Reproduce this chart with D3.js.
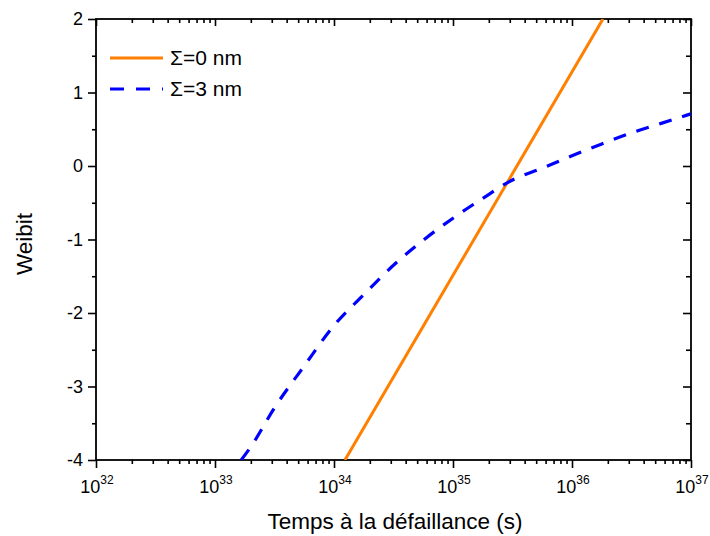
<!DOCTYPE html>
<html><head><meta charset="utf-8">
<script src="https://cdn.jsdelivr.net/npm/d3@7"></script>
<style>
body{margin:0;background:#fff;}
text{font-family:"Liberation Sans",Arial,sans-serif;fill:#000;}
</style></head>
<body><svg id="c" width="710" height="536"></svg>
<script>
// ---- data ----
const xTickValues = [1e32, 1e33, 1e34, 1e35, 1e36, 1e37];
const xTickExponents = ["32", "33", "34", "35", "36", "37"];
const yTickValues = [-4, -3, -2, -1, 0, 1, 2];
const yTickLabels = ["-4", "-3", "-2", "-1", "0", "1", "2"];
const seriesNames = ["\u03A3=0 nm", "\u03A3=3 nm"];
const sigma0Time = [1.236e34, 1.82e36];
const sigma0Weibit = [-4, 2];
const sigma3Time = [1.66e33, 2.0e33, 3.16e33, 5.62e33, 1e34, 1.78e34, 3.16e34, 5.62e34, 1e35, 1.78e35, 3.16e35, 5.62e35, 1e36, 1.78e36, 3.16e36, 5.62e36, 1e37];
const sigma3Weibit = [-4.0, -3.82, -3.29, -2.72, -2.17, -1.75, -1.35, -1.01, -0.71, -0.44, -0.19, -0.03, 0.14, 0.30, 0.45, 0.58, 0.71];
const xTitle = "Temps \u00E0 la d\u00E9faillance (s)";
const yTitle = "Weibit";

// ---- layout ----
const L = 96, R = 691, T = 19, B = 460;
const svg = d3.select("#c");
const x = d3.scaleLog().domain([1e32, 1e37]).range([L, R]);
const y = d3.scaleLinear().domain([-4, 2]).range([B, T]);

const minorX = x.ticks().filter(v => !xTickValues.some(m => Math.abs(v / m - 1) < 1e-6));
const minorY = d3.range(-3.5, 2, 1);

svg.append("defs").append("clipPath").attr("id", "clip")
  .append("rect").attr("x", L).attr("y", T).attr("width", R - L).attr("height", B - T);

function styleAxis(g) {
  g.select(".domain").remove();
  g.selectAll("line").attr("stroke", "#000").attr("stroke-width", 1.6);
}

// bottom (outside)
svg.append("g").attr("transform", `translate(0,${B})`)
  .call(d3.axisBottom(x).tickValues(xTickValues).tickSize(8).tickFormat("")).call(styleAxis);
svg.append("g").attr("transform", `translate(0,${B})`)
  .call(d3.axisBottom(x).tickValues(minorX).tickSize(4).tickFormat("")).call(styleAxis);
// top (inside)
svg.append("g").attr("transform", `translate(0,${T})`)
  .call(d3.axisTop(x).tickValues(xTickValues).tickSize(-7).tickFormat("")).call(styleAxis);
svg.append("g").attr("transform", `translate(0,${T})`)
  .call(d3.axisTop(x).tickValues(minorX).tickSize(-4).tickFormat("")).call(styleAxis);
// left (outside)
svg.append("g").attr("transform", `translate(${L},0)`)
  .call(d3.axisLeft(y).tickValues(yTickValues).tickSize(8).tickFormat("")).call(styleAxis);
svg.append("g").attr("transform", `translate(${L},0)`)
  .call(d3.axisLeft(y).tickValues(minorY).tickSize(4).tickFormat("")).call(styleAxis);
// right (inside)
svg.append("g").attr("transform", `translate(${R},0)`)
  .call(d3.axisRight(y).tickValues(yTickValues).tickSize(-8).tickFormat("")).call(styleAxis);
svg.append("g").attr("transform", `translate(${R},0)`)
  .call(d3.axisRight(y).tickValues(minorY).tickSize(-5).tickFormat("")).call(styleAxis);

// x tick labels
xTickValues.forEach((v, i) => {
  const t = svg.append("text").attr("x", x(v) + 1).attr("y", 493)
    .attr("text-anchor", "middle").style("font-size", "18px");
  t.append("tspan").text("10");
  t.append("tspan").attr("dy", -9).style("font-size", "12px").text(xTickExponents[i]);
});
// y tick labels
yTickValues.forEach((v, i) => {
  svg.append("text").attr("x", 83).attr("y", y(v) + 6)
    .attr("text-anchor", "end").style("font-size", "18px").text(yTickLabels[i]);
});

// frame
svg.append("rect").attr("x", L).attr("y", T).attr("width", R - L).attr("height", B - T)
  .attr("fill", "none").attr("stroke", "#000").attr("stroke-width", 1.8);

// series
const line = d3.line().x(d => x(d[0])).y(d => y(d[1]));
const lineCurve = d3.line().x(d => x(d[0])).y(d => y(d[1])).curve(d3.curveMonotoneX);
const plot = svg.append("g").attr("clip-path", "url(#clip)");
plot.append("path").datum(sigma0Time.map((t, i) => [t, sigma0Weibit[i]]))
  .attr("d", line).attr("fill", "none").attr("stroke", "#FF7F00").attr("stroke-width", 3);
plot.append("path").datum(sigma3Time.map((t, i) => [t, sigma3Weibit[i]]))
  .attr("d", lineCurve).attr("fill", "none").attr("stroke", "#0000FF").attr("stroke-width", 3.2)
  .attr("stroke-dasharray", "13,11");

// legend
svg.append("line").attr("x1", 110).attr("x2", 163).attr("y1", 58).attr("y2", 58)
  .attr("stroke", "#FF7F00").attr("stroke-width", 3);
svg.append("line").attr("x1", 110).attr("x2", 163).attr("y1", 89).attr("y2", 89)
  .attr("stroke", "#0000FF").attr("stroke-width", 3.2).attr("stroke-dasharray", "14,12");
svg.append("text").attr("x", 170).attr("y", 65).style("font-size", "21px").text(seriesNames[0]);
svg.append("text").attr("x", 170).attr("y", 96).style("font-size", "21px").text(seriesNames[1]);

// titles
svg.append("text").attr("x", 395).attr("y", 529).attr("text-anchor", "middle")
  .style("font-size", "22.5px").text(xTitle);
svg.append("text").attr("transform", "translate(32,244) rotate(-90)").attr("text-anchor", "middle")
  .style("font-size", "22.5px").text(yTitle);
</script></body></html>
